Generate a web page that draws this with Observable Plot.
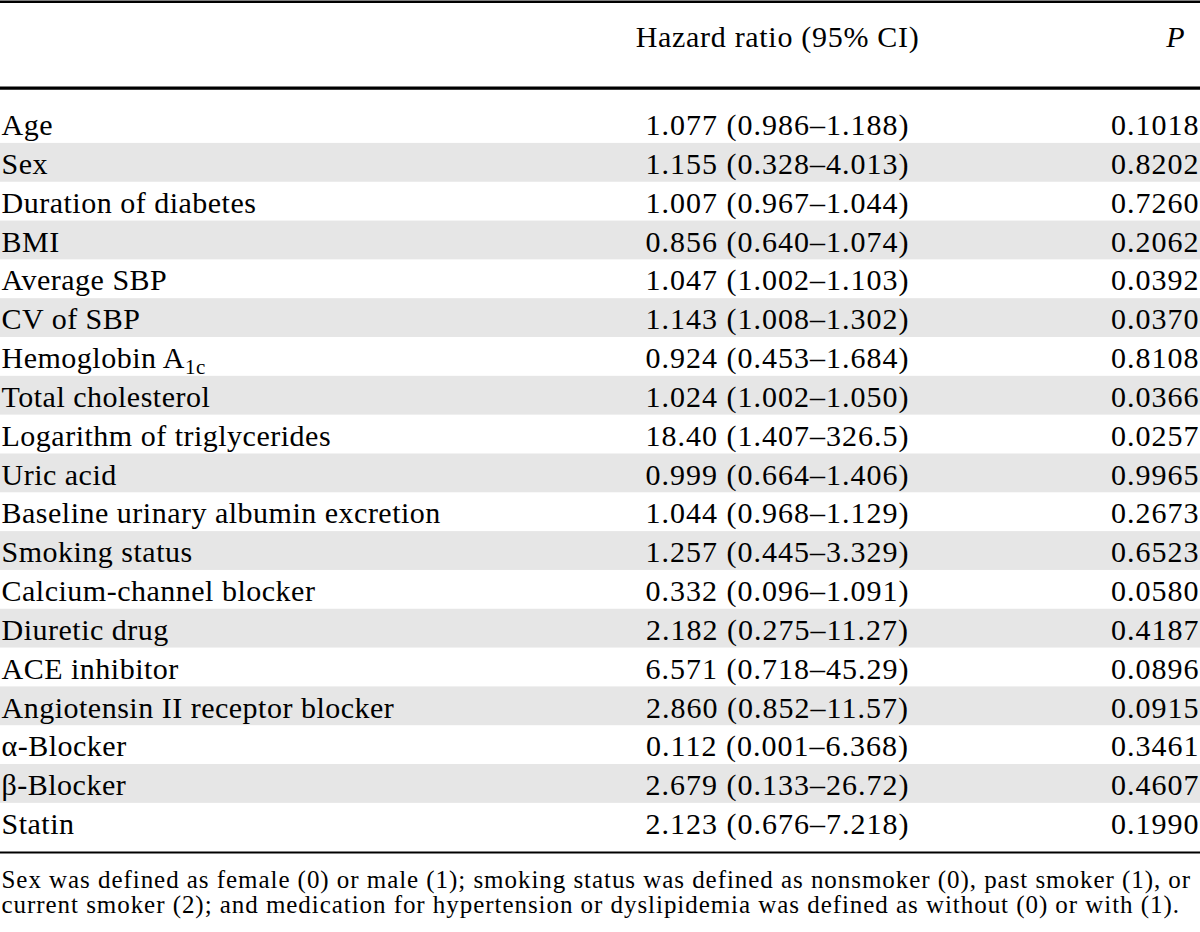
<!DOCTYPE html>
<html>
<head>
<meta charset="utf-8">
<script src="https://cdn.jsdelivr.net/npm/d3@7"></script>
<script src="https://cdn.jsdelivr.net/npm/@observablehq/plot@0.6"></script>
<style>
  html, body { margin: 0; padding: 0; background: #fff; }
  #chart svg { display: block; }
</style>
</head>
<body>
<div id="chart"></div>
<script>
// ---------- data ----------
const variables = [
  "Age", "Sex", "Duration of diabetes", "BMI", "Average SBP", "CV of SBP",
  "Hemoglobin A1c", "Total cholesterol", "Logarithm of triglycerides", "Uric acid",
  "Baseline urinary albumin excretion", "Smoking status", "Calcium-channel blocker",
  "Diuretic drug", "ACE inhibitor", "Angiotensin II receptor blocker",
  "α-Blocker", "β-Blocker", "Statin"
];
const hazardRatios = ["1.077", "1.155", "1.007", "0.856", "1.047", "1.143", "0.924", "1.024", "18.40", "0.999",
  "1.044", "1.257", "0.332", "2.182", "6.571", "2.860", "0.112", "2.679", "2.123"];
const ciLower = ["0.986", "0.328", "0.967", "0.640", "1.002", "1.008", "0.453", "1.002", "1.407", "0.664",
  "0.968", "0.445", "0.096", "0.275", "0.718", "0.852", "0.001", "0.133", "0.676"];
const ciUpper = ["1.188", "4.013", "1.044", "1.074", "1.103", "1.302", "1.684", "1.050", "326.5", "1.406",
  "1.129", "3.329", "1.091", "11.27", "45.29", "11.57", "6.368", "26.72", "7.218"];
const pValues = ["0.1018", "0.8202", "0.7260", "0.2062", "0.0392", "0.0370", "0.8108", "0.0366", "0.0257", "0.9965",
  "0.2673", "0.6523", "0.0580", "0.4187", "0.0896", "0.0915", "0.3461", "0.4607", "0.1990"];
const columnHeaders = ["Hazard ratio (95% CI)", "P"];
const footnoteLines = [
  "Sex was defined as female (0) or male (1); smoking status was defined as nonsmoker (0), past smoker (1), or",
  "current smoker (2); and medication for hypertension or dyslipidemia was defined as without (0) or with (1)."
];

// ---------- table built from the arrays ----------
const rows = variables.map((name, i) => ({
  i, name,
  hr: `${hazardRatios[i]} (${ciLower[i]}–${ciUpper[i]})`,
  p: pValues[i]
}));

// ---------- layout ----------
const W = 1200, H = 932;
const rowH = 38.82;          // height of one body row
const firstCenter = 123.5;   // vertical centre of the first row
const u = px => (px - firstCenter) / rowH; // pixel -> row units
const colLabel = 1, colHR = 777, colP = 1199, colPHead = 1175;
const fs = 30, footFs = 25;
const font = "'Liberation Serif', 'Times New Roman', serif";

const plot = Plot.plot({
  width: W, height: H,
  margin: 0,
  x: {domain: [0, W], range: [0, W], axis: null},
  y: {domain: [u(0), u(H)], range: [0, H], axis: null},
  style: {fontFamily: font, background: "#fff", color: "#000"},
  marks: [
    Plot.rect(rows.filter(d => d.i % 2 === 1), {
      x1: 0, x2: W, y1: d => d.i - 0.5, y2: d => d.i + 0.5, fill: "#e6e6e6"
    }),
    Plot.ruleY([u(1.2)], {stroke: "#000", strokeWidth: 2.4}),
    Plot.ruleY([u(87.6)], {stroke: "#000", strokeWidth: 3.2}),
    Plot.ruleY([u(852)], {stroke: "#000", strokeWidth: 2.2}),
    Plot.text([columnHeaders[0]], {x: colHR, y: u(37), text: d => d, textAnchor: "middle", fontSize: fs, fill: "#000", className: "sp-header"}),
    Plot.text([columnHeaders[1]], {x: colPHead, y: u(37), text: d => d, textAnchor: "middle", fontSize: fs, fontStyle: "italic", fill: "#000"}),
    Plot.text(rows, {x: colLabel, y: "i", text: "name", textAnchor: "start", fontSize: fs, dy: 1.6, fill: "#000", className: "sp-labels"}),
    Plot.text(rows, {x: colHR, y: "i", text: "hr", textAnchor: "middle", fontSize: fs, dy: 1.6, fill: "#000", className: "sp-numbers"}),
    Plot.text(rows, {x: colP, y: "i", text: "p", textAnchor: "end", fontSize: fs, dy: 1.6, fill: "#000", className: "sp-numbers"}),
    Plot.text(footnoteLines.map((t, k) => ({t, k})), {
      x: colLabel, y: d => u(879 + d.k * 25), text: "t", textAnchor: "start", fontSize: footFs, fill: "#000", className: "sp-footnote"
    })
  ]
});

const svg = d3.select(plot);
// letter spacing to approximate the wider typeface of the original,
// applied by text content so it works whatever attributes Plot emits
const spacingOf = new Map();
variables.forEach(v => spacingOf.set(v, 0.5));
rows.forEach(r => { spacingOf.set(r.hr, 1.0); spacingOf.set(r.p, 1.0); });
spacingOf.set(columnHeaders[0], 0.7);
footnoteLines.forEach(f => spacingOf.set(f, 0.95));
svg.selectAll("text").each(function () {
  const s = spacingOf.get(this.textContent);
  if (s != null) this.style.letterSpacing = s + "px";
});

// subscript for Hemoglobin A1c
svg.selectAll("text").each(function () {
  if (this.textContent === "Hemoglobin A1c") {
    const t = d3.select(this);
    t.text("Hemoglobin A");
    t.append("tspan").attr("font-size", 21).attr("dy", 6).text("1c");
  }
});

document.getElementById("chart").appendChild(plot);
</script>
</body>
</html>
